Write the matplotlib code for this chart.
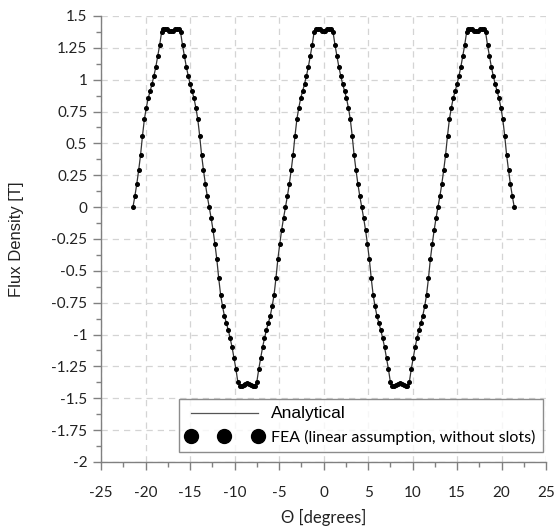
import numpy as np
import matplotlib
matplotlib.use("Agg")
import matplotlib.pyplot as plt
from matplotlib.lines import Line2D

# Sample angles (degrees): 201 uniformly spaced samples across 2.5 periods
theta_start = -21.43
theta_end = 21.43
n_samples = 201

# Flux density values (T)
flux = [
    0.00, 0.085, 0.18, 0.29, 0.41, 0.56, 0.69, 0.78, 0.855, 0.91,
    0.965, 1.03, 1.10, 1.185, 1.27, 1.37, 1.40, 1.40, 1.395, 1.385,
    1.38, 1.385, 1.395, 1.40, 1.40, 1.37, 1.27, 1.185, 1.10, 1.03,
    0.965, 0.91, 0.855, 0.78, 0.69, 0.56, 0.41, 0.29, 0.18, 0.085,
    0.00, -0.085, -0.18, -0.29, -0.41, -0.56, -0.69, -0.78, -0.855, -0.91,
    -0.965, -1.03, -1.10, -1.185, -1.27, -1.37, -1.40, -1.40, -1.395, -1.385,
    -1.38, -1.385, -1.395, -1.40, -1.40, -1.37, -1.27, -1.185, -1.10, -1.03,
    -0.965, -0.91, -0.855, -0.78, -0.69, -0.56, -0.41, -0.29, -0.18, -0.085,
    0.00, 0.085, 0.18, 0.29, 0.41, 0.56, 0.69, 0.78, 0.855, 0.91,
    0.965, 1.03, 1.10, 1.185, 1.27, 1.37, 1.40, 1.40, 1.395, 1.385,
    1.38, 1.385, 1.395, 1.40, 1.40, 1.37, 1.27, 1.185, 1.10, 1.03,
    0.965, 0.91, 0.855, 0.78, 0.69, 0.56, 0.41, 0.29, 0.18, 0.085,
    0.00, -0.085, -0.18, -0.29, -0.41, -0.56, -0.69, -0.78, -0.855, -0.91,
    -0.965, -1.03, -1.10, -1.185, -1.27, -1.37, -1.40, -1.40, -1.395, -1.385,
    -1.38, -1.385, -1.395, -1.40, -1.40, -1.37, -1.27, -1.185, -1.10, -1.03,
    -0.965, -0.91, -0.855, -0.78, -0.69, -0.56, -0.41, -0.29, -0.18, -0.085,
    0.00, 0.085, 0.18, 0.29, 0.41, 0.56, 0.69, 0.78, 0.855, 0.91,
    0.965, 1.03, 1.10, 1.185, 1.27, 1.37, 1.40, 1.40, 1.395, 1.385,
    1.38, 1.385, 1.395, 1.40, 1.40, 1.37, 1.27, 1.185, 1.10, 1.03,
    0.965, 0.91, 0.855, 0.78, 0.69, 0.56, 0.41, 0.29, 0.18, 0.085,
    0.00,
]

x_ticks = [-25, -20, -15, -10, -5, 0, 5, 10, 15, 20, 25]
y_ticks = [1.5, 1.25, 1, 0.75, 0.5, 0.25, 0, -0.25, -0.5, -0.75, -1,
           -1.25, -1.5, -1.75, -2]
y_tick_labels = ["1.5", "1.25", "1", "0.75", "0.5", "0.25", "0", "-0.25",
                 "-0.5", "-0.75", "-1", "-1.25", "-1.5", "-1.75", "-2"]

theta = np.linspace(theta_start, theta_end, n_samples)

plt.rcParams['font.family'] = ['Lato', 'DejaVu Sans']

fig = plt.figure(figsize=(5.56, 5.31), dpi=100)
ax = fig.add_axes([0.182, 0.130, 0.800, 0.840])

ax.plot(theta, flux, color="#333333", lw=0.9, zorder=3)
ax.plot(theta, flux, linestyle="none", marker="o", ms=2.6, color="black",
        zorder=4)

ax.set_xlim(-25, 25)
ax.set_ylim(-2, 1.5)
ax.set_xticks(x_ticks)
ax.set_xticklabels([str(t) for t in x_ticks])
ax.set_yticks(y_ticks)
ax.set_yticklabels(y_tick_labels)
ax.set_xticks(np.arange(-22.5, 25, 5), minor=True)
ax.set_yticks(np.arange(-1.875, 1.5, 0.25), minor=True)

ax.grid(True, which="major", linestyle=(0, (5, 4)), color="#d4d4d4", lw=0.9)
ax.set_axisbelow(True)

for s in ["top", "right"]:
    ax.spines[s].set_visible(False)
for s in ["left", "bottom"]:
    ax.spines[s].set_color("#808080")
    ax.spines[s].set_linewidth(1.0)

ax.tick_params(which="major", direction="out", length=6, width=1.0,
               color="#808080", labelsize=11, labelcolor="#222222", pad=4)
ax.tick_params(which="minor", direction="out", length=3.5, width=1.0,
               color="#808080")
ax.tick_params(axis="x", pad=11)

ax.set_xlabel("\u0398 [degrees]", fontsize=12, color="#222222", labelpad=7)
ax.set_ylabel("Flux Density [T]", fontsize=12, color="#222222",
              family=["Liberation Sans", "DejaVu Sans"], labelpad=20)

h1 = Line2D([], [], color="#555555", lw=0.9)
h2 = Line2D([], [], linestyle="none", marker="o", ms=10, color="black")
leg = ax.legend([h1, h2], ["Analytical", "FEA (linear assumption, without slots)"],
                loc="lower right", bbox_to_anchor=(0.993, 0.022),
                numpoints=3, handlelength=4.8, handletextpad=0.55,
                fontsize=11.5, frameon=True, fancybox=False,
                borderpad=0.45, labelspacing=0.55, borderaxespad=0.0)
leg.get_frame().set_edgecolor("#707070")
leg.get_frame().set_linewidth(1.0)
texts = leg.get_texts()
texts[0].set_family(["Liberation Sans", "DejaVu Sans"])
texts[0].set_fontsize(12.5)

fig.savefig("out.png", dpi=100)
